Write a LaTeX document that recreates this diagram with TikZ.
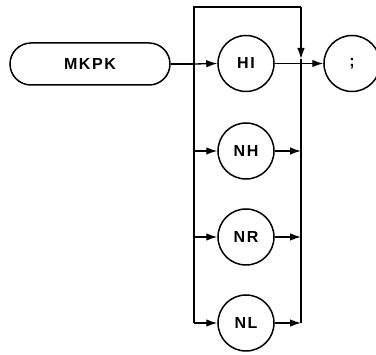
\documentclass[tikz,border=0pt]{standalone}
\usepackage{fontspec}
\setmainfont{Liberation Sans}
\usetikzlibrary{arrows.meta}
\tikzset{
  line/.style={line width=1.3pt},
  arr/.style={line width=1.3pt,-{Latex[length=11pt,width=7.5pt]}},
  lbl/.style={font=\fontsize{16}{18}\selectfont\bfseries\addfontfeature{LetterSpace=10}},
  rbox/.style={draw,lbl,line width=1.5pt,rounded corners=21pt,minimum width=160pt,minimum height=42pt,inner sep=0pt},
  kw/.style={draw,lbl,circle,line width=1.5pt,minimum size=56pt,inner sep=0pt}
}
\begin{document}
\begin{tikzpicture}[x=1pt,y=-1pt]
\clip (0,0) rectangle (376,355);
\node[rbox] (mkpk) at (90,64) {MKPK};
\node[kw] (hi) at (246,63.5) {HI};
\node[kw] (nh) at (246,151) {NH};
\node[kw] (nr) at (246,237) {NR};
\node[kw] (nl) at (246,323) {NL};
\node[kw] (semi) at (352,63.5) {;};
\coordinate (tl) at (194,7);
\coordinate (tr) at (301,7);
\coordinate (bl) at (194,323);
\coordinate (br) at (301,323);
\coordinate (jin) at (194,64);
\coordinate (jout) at (301,63.5);
\coordinate (down) at (301,59);
\coordinate (lnh) at (194,151);
\coordinate (lnr) at (194,237);
\coordinate (rnh) at (301,151);
\coordinate (rnr) at (301,237);
\draw[line] (mkpk.east) -- (jin);
\draw[arr] (jin) -- (hi.west);
\draw[line] (bl) -- (tl) -- (tr);
\draw[arr] (tr) -- (down);
\draw[line] (down) -- (br);
\draw[line] (hi.east) -- (jout);
\draw[arr] (jout) -- (semi.west);
\draw[arr] (lnh) -- (nh.west);
\draw[arr] (lnr) -- (nr.west);
\draw[arr] (bl) -- (nl.west);
\draw[arr] (nh.east) -- (rnh);
\draw[arr] (nr.east) -- (rnr);
\draw[arr] (nl.east) -- (br);
\end{tikzpicture}
\end{document}
